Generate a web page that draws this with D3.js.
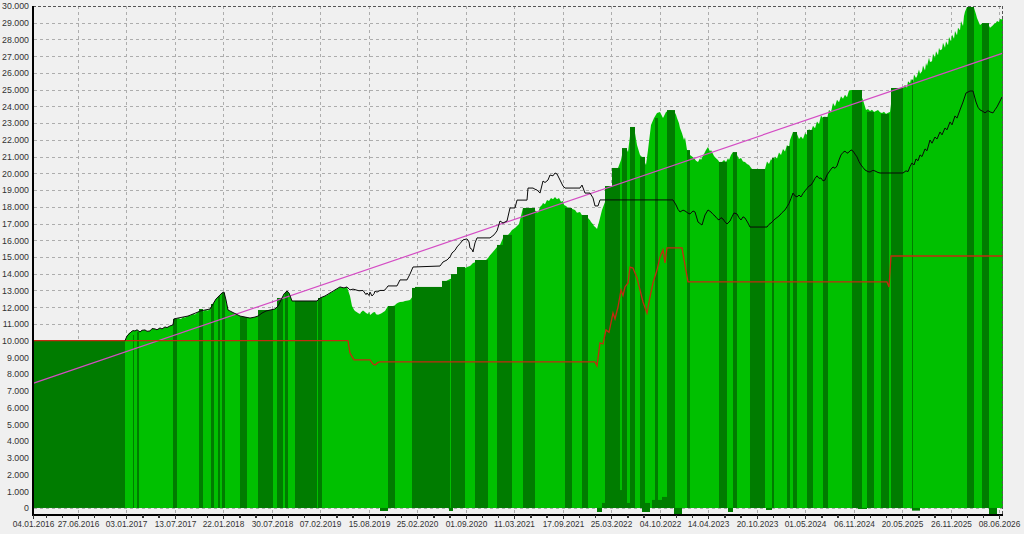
<!DOCTYPE html>
<html>
<head>
<meta charset="utf-8">
<script src="https://cdn.jsdelivr.net/npm/d3@7"></script>
<style>
  html, body { margin: 0; padding: 0; background: #f0f0f0; }
  svg { display: block; font-family: "Liberation Sans", Arial, sans-serif; }
</style>
</head>
<body>
<svg id="chart" width="1024" height="534"></svg>
<script>
// x is a sample index along the run (0..970), y is the account value
const tickIdx = [0, 45, 93, 142, 190, 239, 287, 336, 384, 433, 481, 530, 578, 627, 675, 724, 772, 821, 869, 918, 966];
const tickLabels = ['04.01.2016', '27.06.2016', '03.01.2017', '13.07.2017', '22.01.2018', '30.07.2018',
  '07.02.2019', '15.08.2019', '25.02.2020', '01.09.2020', '11.03.2021', '17.09.2021', '25.03.2022',
  '04.10.2022', '14.04.2023', '20.10.2023', '01.05.2024', '06.11.2024', '20.05.2025', '26.11.2025', '08.06.2026'];

// equity envelope (bright green)
const equity = [
  [92, 10000], [94, 10280], [96, 10450], [98, 10520], [100, 10600], [102, 10580], [104, 10650], [107, 10520],
  [109, 10620], [112, 10640], [114, 10560], [117, 10580], [119, 10720], [122, 10700], [124, 10650], [127, 10760],
  [129, 10700], [132, 10820], [134, 10780], [137, 10880], [140, 10940], [141, 11300], [143, 11250], [145, 11350],
  [148, 11300], [150, 11410], [152, 11380], [155, 11470], [158, 11520], [160, 11590], [162, 11560], [165, 11710],
  [167, 11770], [170, 11740], [172, 11830], [175, 11800], [177, 11890], [180, 12190], [183, 12490], [186, 12670],
  [189, 12850], [191, 12910], [193, 12430], [195, 11830], [197, 11760], [199, 11710], [201, 11640], [203, 11590],
  [205, 11520], [207, 11470], [210, 11440], [212, 11410], [215, 11380], [217, 11350], [220, 11390], [222, 11410],
  [225, 11470], [227, 11560], [229, 11650], [231, 11700], [233, 11770], [235, 11800], [237, 11830], [240, 11860],
  [242, 11890], [245, 12070], [248, 12430], [251, 12790], [254, 12970], [256, 12850], [259, 12370], [263, 12370],
  [284, 12370], [287, 12550], [290, 12620], [292, 12670], [295, 12750], [297, 12850], [300, 12920], [302, 13030],
  [305, 13120], [307, 13210], [309, 13170], [311, 13150], [314, 13210], [317, 12670], [319, 12070], [321, 11850],
  [322, 11770], [324, 11700], [325, 11650], [327, 11590], [328, 11700], [330, 11800], [332, 11710], [333, 11650],
  [335, 11600], [336, 11720], [337, 11530], [339, 11620], [340, 11680], [342, 11710], [343, 11580], [345, 11550],
  [347, 11590], [349, 11650], [350, 11700], [352, 11770], [355, 12070], [360, 12070], [362, 12120], [363, 12190],
  [365, 12260], [367, 12310], [370, 12330], [372, 12370], [375, 12400], [377, 12430], [380, 12670], [382, 13150],
  [409, 13210], [412, 13510], [414, 13600], [417, 13690], [419, 13720], [422, 13810], [424, 13950], [427, 14160],
  [429, 14220], [432, 14340], [434, 14400], [437, 14460], [440, 14640], [443, 14700], [445, 14680], [447, 14760],
  [450, 14720], [452, 14760], [455, 14940], [457, 15100], [459, 15240], [462, 15450], [464, 15600], [467, 15720],
  [470, 16140], [472, 16250], [475, 16320], [477, 16450], [479, 16610], [482, 16730], [484, 16850], [486, 16970],
  [490, 17930], [492, 17700], [495, 17870], [497, 17600], [499, 17630], [501, 17800], [503, 17750], [505, 17650],
  [507, 17990], [509, 18100], [510, 18230], [512, 18150], [514, 18410], [516, 18350], [518, 18530], [520, 18450],
  [522, 18590], [524, 18450], [526, 18530], [528, 18300], [530, 18350], [531, 18100], [533, 18050], [535, 17950],
  [537, 17930], [540, 17850], [542, 17810], [544, 17650], [547, 17690], [549, 17500], [552, 17510], [554, 17420],
  [555, 17330], [557, 17200], [558, 17090], [560, 16950], [561, 16850], [563, 16750], [564, 16670], [566, 17090],
  [569, 17810], [572, 18290], [575, 19120], [579, 19240], [582, 19900], [585, 20320], [588, 20800], [590, 21390],
  [593, 21510], [595, 21270], [598, 22710], [601, 22770], [604, 21690], [607, 21100], [610, 20920], [613, 20500],
  [615, 21390], [618, 22890], [621, 23310], [624, 23610], [627, 23670], [630, 23310], [633, 23670], [637, 23780],
  [641, 23720], [643, 23500], [644, 23310], [646, 23000], [647, 22710], [649, 22400], [651, 21990], [652, 22150],
  [654, 21390], [656, 21250], [657, 21100], [659, 21000], [661, 20920], [663, 20750], [665, 20680], [667, 20900],
  [668, 20800], [670, 21050], [671, 21160], [673, 21400], [675, 21570], [677, 21300], [678, 21390], [680, 21150],
  [681, 21040], [683, 20900], [685, 20800], [687, 20600], [689, 20680], [691, 20800], [693, 20680], [695, 20900],
  [696, 20800], [698, 21100], [700, 21270], [702, 20950], [704, 21100], [706, 20850], [708, 20920], [710, 20700],
  [712, 20680], [714, 20550], [716, 20500], [719, 20260], [732, 20260], [734, 20700], [736, 20550], [738, 20850],
  [740, 20700], [742, 21000], [744, 20880], [746, 21250], [748, 21100], [750, 21450], [752, 21300], [754, 21700],
  [756, 21550], [757, 21990], [759, 22300], [760, 22470], [762, 22200], [764, 22350], [766, 22050], [768, 22200],
  [770, 22050], [772, 22400], [774, 22300], [776, 22650], [778, 22500], [780, 22850], [782, 22700], [784, 23100],
  [786, 22950], [788, 23450], [790, 23300], [792, 23400], [794, 23250], [796, 23800], [798, 23650], [800, 24200],
  [802, 24000], [804, 24400], [806, 24250], [808, 24600], [810, 24450], [812, 24700], [814, 24550], [816, 24950],
  [819, 24980], [821, 24700], [823, 24880], [825, 24650], [827, 24800], [830, 24380], [833, 23780], [835, 23850],
  [837, 23720], [839, 23800], [841, 23670], [843, 23720], [845, 23780], [847, 23650], [849, 23610], [851, 23680],
  [853, 23550], [855, 23620], [857, 23670], [860, 25100], [870, 25100], [872, 25300], [874, 25120], [875, 25500],
  [877, 25380], [878, 25650], [880, 25420], [881, 25900], [883, 25700], [884, 25800], [886, 26200], [887, 25950],
  [889, 26100], [890, 26450], [892, 26150], [893, 26600], [894, 26420], [896, 26900], [897, 26650], [899, 26700],
  [900, 27150], [902, 26900], [903, 27300], [905, 27050], [906, 27500], [907, 27350], [909, 27420], [910, 27800],
  [912, 27500], [913, 27900], [915, 27650], [916, 28150], [918, 27900], [919, 28300], [921, 28050], [922, 28500],
  [924, 28250], [925, 28700], [927, 28550], [928, 29100], [930, 28800], [931, 29400], [932, 29650], [934, 29940],
  [941, 29880], [943, 29500], [944, 29280], [946, 29000], [947, 28860], [949, 28950], [951, 28920], [953, 28850],
  [955, 28920], [957, 28700], [958, 28740], [960, 28850], [961, 28920], [963, 29000], [964, 29100], [966, 29050],
  [967, 29220], [969, 29200], [970, 29280]
];

// flat balance stretches (dark green): [from, to, value]
const flatBars = [
  [0, 92, 10000], [100, 101, 10340], [104, 106, 10520], [140, 144, 11300], [166, 170, 11890], [178, 181, 12190],
  [185, 187, 12670], [189, 192, 12850], [207, 214, 11410], [225, 240, 11830], [244, 250, 12550], [252, 255, 12910],
  [262, 284, 12370], [285, 289, 12550], [355, 362, 12070], [379, 384, 13150], [382, 409, 13210], [409, 417, 13570],
  [418, 424, 13980], [424, 432, 14400], [442, 455, 14820], [464, 470, 15720], [470, 479, 16320], [490, 502, 17930],
  [532, 539, 17930], [549, 555, 17510], [572, 579, 19240], [579, 587, 20320], [589, 594, 21510], [597, 602, 22770],
  [607, 612, 20980], [622, 625, 23310], [634, 642, 23780], [654, 657, 21390], [686, 694, 20680], [700, 704, 21270],
  [717, 732, 20260], [739, 741, 20920], [754, 757, 21630], [760, 764, 22470], [774, 780, 22590], [790, 795, 23370],
  [819, 829, 24980], [834, 841, 23670], [848, 856, 23550], [858, 870, 25100], [879, 880, 25600], [934, 941, 29940],
  [949, 956, 28980]
];

// short dark bars at the bottom
const lowBars = [
  [569, 597, 300], [579, 582, 2250], [585, 589, 1070], [607, 617, 300], [619, 629, 480], [629, 640, 660]
];

// dark bars below zero
const negBars = [
  [347, 355, -180], [416, 420, -180], [564, 569, -240], [609, 617, -240], [641, 649, -380], [695, 700, -240],
  [733, 739, -120], [825, 834, -60], [879, 887, -160], [956, 964, -360]
];

// black line
const balance = [
  [92, 10000], [94, 10280], [98, 10520], [100, 10600], [102, 10580], [104, 10650], [107, 10520], [109, 10620],
  [112, 10640], [114, 10560], [117, 10580], [119, 10720], [122, 10700], [124, 10650], [127, 10760], [129, 10700],
  [132, 10820], [134, 10780], [137, 10880], [140, 10940], [141, 11300], [145, 11350], [150, 11410], [155, 11470],
  [160, 11590], [165, 11710], [167, 11770], [172, 11830], [177, 11890], [180, 12190], [183, 12490], [186, 12670],
  [189, 12850], [191, 12910], [193, 12430], [195, 11830], [199, 11710], [203, 11590], [207, 11470], [212, 11410],
  [217, 11350], [222, 11410], [225, 11470], [229, 11650], [233, 11770], [237, 11830], [242, 11890], [245, 12070],
  [248, 12430], [251, 12790], [254, 12970], [256, 12850], [259, 12370], [284, 12370], [287, 12550], [292, 12670],
  [297, 12850], [302, 13030], [307, 13210], [311, 13150], [314, 13210], [317, 13030], [320, 13080], [323, 13030],
  [326, 12980], [330, 13000], [333, 12750], [334, 12850], [336, 12700], [337, 12900], [339, 12670], [341, 12800],
  [342, 12960], [344, 12900], [347, 13000], [351, 13000], [353, 13100], [355, 13270], [364, 13270], [367, 13630],
  [374, 13630], [377, 13980], [380, 14400], [407, 14460], [410, 14700], [414, 14820], [417, 15000], [419, 15240],
  [422, 15400], [424, 15600], [427, 15800], [430, 16020], [434, 16080], [436, 15900], [437, 15540], [439, 15450],
  [440, 15300], [442, 15840], [444, 16140], [457, 16140], [461, 16320], [464, 16560], [467, 17150], [470, 17030],
  [474, 17150], [477, 17930], [482, 17930], [484, 18400], [494, 18400], [495, 19120], [500, 19120], [502, 19050],
  [504, 19000], [507, 18820], [510, 19540], [512, 19450], [515, 19600], [517, 19900], [520, 19850], [522, 20020],
  [524, 19960], [527, 19600], [530, 19240], [532, 19120], [547, 19120], [549, 19300], [552, 18820], [557, 18820],
  [560, 18530], [562, 18050], [565, 18050], [567, 18410], [640, 18410], [643, 18110], [645, 17850], [647, 17690],
  [650, 17800], [652, 17750], [655, 17620], [657, 17570], [660, 17750], [662, 17690], [665, 17090], [667, 17000],
  [669, 16910], [672, 17510], [675, 17810], [678, 17690], [680, 17550], [682, 17450], [684, 17300], [686, 17210],
  [688, 17350], [690, 17270], [692, 17100], [694, 16970], [697, 17150], [699, 17400], [701, 17630], [704, 17570],
  [706, 17350], [708, 17210], [710, 17400], [712, 17330], [715, 17030], [717, 16790], [734, 16790], [736, 16950],
  [738, 17030], [740, 17150], [742, 17270], [745, 17400], [747, 17510], [749, 17650], [752, 17810], [754, 18000],
  [756, 18200], [758, 18500], [760, 18820], [762, 18650], [764, 18590], [766, 18700], [768, 18590], [770, 18800],
  [772, 18950], [774, 19100], [776, 19240], [778, 19300], [780, 19480], [782, 19700], [784, 19850], [786, 19700],
  [788, 19720], [790, 19550], [792, 19600], [794, 19900], [796, 20080], [798, 20250], [800, 20380], [802, 20300],
  [804, 20440], [806, 20800], [808, 21100], [810, 21250], [812, 21330], [814, 21200], [816, 21270], [818, 21400],
  [820, 21330], [822, 21150], [824, 20980], [826, 20700], [828, 20500], [830, 20350], [832, 20200], [835, 20100],
  [837, 20080], [840, 20180], [842, 20140], [845, 20050], [847, 20020], [870, 20020], [873, 20150], [875, 20100],
  [877, 20400], [879, 20620], [881, 20500], [883, 20860], [885, 20750], [887, 21100], [889, 21000], [892, 21460],
  [894, 21350], [897, 21990], [899, 21800], [902, 22170], [904, 22050], [907, 22470], [909, 22300], [912, 22710],
  [914, 22600], [917, 23070], [919, 22900], [922, 23430], [924, 23300], [927, 23790], [930, 24260], [933, 24800],
  [937, 24920], [940, 24920], [943, 24260], [945, 23950], [947, 23790], [950, 23700], [952, 23610], [955, 23750],
  [957, 23670], [960, 23610], [962, 23800], [964, 23970], [967, 24320], [969, 24560]
];

// red line
const load = [
  [0, 10000], [315, 10000], [317, 9260], [321, 8850], [337, 8850], [340, 8600], [342, 8550], [345, 8700],
  [347, 8730], [562, 8730], [564, 8490], [567, 9860], [570, 9800], [573, 10640], [576, 10500], [580, 11650],
  [582, 11300], [585, 12010], [588, 13030], [590, 12700], [592, 13210], [595, 13450], [597, 14400], [600, 14340],
  [604, 13750], [607, 13030], [610, 12310], [614, 11650], [617, 12610], [620, 13450], [624, 14220], [627, 15000],
  [630, 15420], [632, 14640], [634, 15540], [649, 15540], [655, 13510], [854, 13510], [856, 13210], [858, 15060],
  [970, 15060]
];

// straight trend line, start and end value
const trend = [[0, 7450], [970, 27180]];

const svg = d3.select('#chart');
const x = d3.scaleLinear().domain([0, 970]).range([33, 1003]);
const y = d3.scaleLinear().domain([-420, 30000]).range([515, 6]);
const fmt = v => d3.format(',')(v).replace(/,/g, '.');

svg.append('rect').attr('width', 1024).attr('height', 534).attr('fill', '#f0f0f0');

// grid
const grid = svg.append('g').attr('stroke', '#adadad').attr('stroke-dasharray', '3,3').attr('stroke-width', 1);
grid.selectAll('line.h')
  .data(y.ticks(30).filter(v => v < 30000))
  .enter().append('line')
  .attr('x1', 34).attr('x2', 1003)
  .attr('y1', d => Math.round(y(d)) + 0.5).attr('y2', d => Math.round(y(d)) + 0.5);
grid.selectAll('line.v')
  .data(tickIdx.slice(1))
  .enter().append('line')
  .attr('x1', d => Math.round(x(d)) + 0.5).attr('x2', d => Math.round(x(d)) + 0.5)
  .attr('y1', 6).attr('y2', 515);

// bright equity area
svg.append('path')
  .datum(equity)
  .attr('fill', '#00c000')
  .attr('d', d3.area().x(d => x(d[0])).y0(y(0)).y1(d => y(d[1])));

const bars = (data, fill) => svg.append('g').selectAll('rect')
  .data(data)
  .enter().append('rect')
  .attr('x', d => x(d[0]))
  .attr('width', d => x(d[1]) - x(d[0]))
  .attr('y', d => Math.min(y(d[2]), y(0)))
  .attr('height', d => Math.abs(y(0) - y(d[2])))
  .attr('fill', fill);

bars(flatBars, '#007c00');
bars(lowBars, '#007c00');
bars(negBars, '#007c00');

const line = d3.line().x(d => x(d[0])).y(d => y(d[1]));

svg.append('path').datum(trend)
  .attr('fill', 'none').attr('stroke', '#d44cc4').attr('stroke-width', 1.2)
  .attr('d', line);

svg.append('path').datum(load)
  .attr('fill', 'none').attr('stroke', '#c42a10').attr('stroke-width', 1.3)
  .attr('d', line);

svg.append('path').datum(balance)
  .attr('fill', 'none').attr('stroke', '#0a0a0a').attr('stroke-width', 1)
  .attr('d', line);

// frame
svg.append('line').attr('x1', 33).attr('x2', 1003).attr('y1', 6.5).attr('y2', 6.5)
  .attr('stroke', '#555').attr('stroke-dasharray', '3,2');
svg.append('line').attr('x1', 1002.5).attr('x2', 1002.5).attr('y1', 6).attr('y2', 515)
  .attr('stroke', '#555').attr('stroke-dasharray', '3,2');
svg.append('line').attr('x1', 33).attr('x2', 33).attr('y1', 6).attr('y2', 516)
  .attr('stroke', '#000').attr('stroke-width', 2);
svg.append('line').attr('x1', 32).attr('x2', 1003).attr('y1', 515).attr('y2', 515)
  .attr('stroke', '#000').attr('stroke-width', 2);

// y axis labels
const yAxis = svg.append('g')
  .attr('transform', 'translate(33,0)')
  .call(d3.axisLeft(y).tickValues(y.ticks(30)).tickFormat(fmt).tickSize(0).tickPadding(4));
yAxis.select('.domain').remove();
yAxis.selectAll('text').attr('font-size', '8.8px').attr('fill', '#333').attr('font-family', '"Liberation Sans", Arial, sans-serif');

// x axis: minor ticks then labelled ticks
const minor = [];
tickIdx.slice(1).forEach(t => { [-32, -16, 16, 32].forEach(o => minor.push(t + o)); });
const xMinor = svg.append('g')
  .attr('transform', 'translate(0,515)')
  .call(d3.axisBottom(x).tickValues(minor.filter(v => v > 0 && v < 970)).tickFormat('').tickSize(3));
xMinor.select('.domain').remove();
xMinor.selectAll('line').attr('stroke', '#333');

const xAxis = svg.append('g')
  .attr('transform', 'translate(0,515)')
  .call(d3.axisBottom(x).tickValues(tickIdx).tickFormat((d, i) => tickLabels[i]).tickSize(4).tickPadding(2));
xAxis.select('.domain').remove();
xAxis.selectAll('line').attr('stroke', '#333');
xAxis.selectAll('text').attr('font-size', '8.3px').attr('fill', '#333').attr('font-family', '"Liberation Sans", Arial, sans-serif');
</script>
</body>
</html>
